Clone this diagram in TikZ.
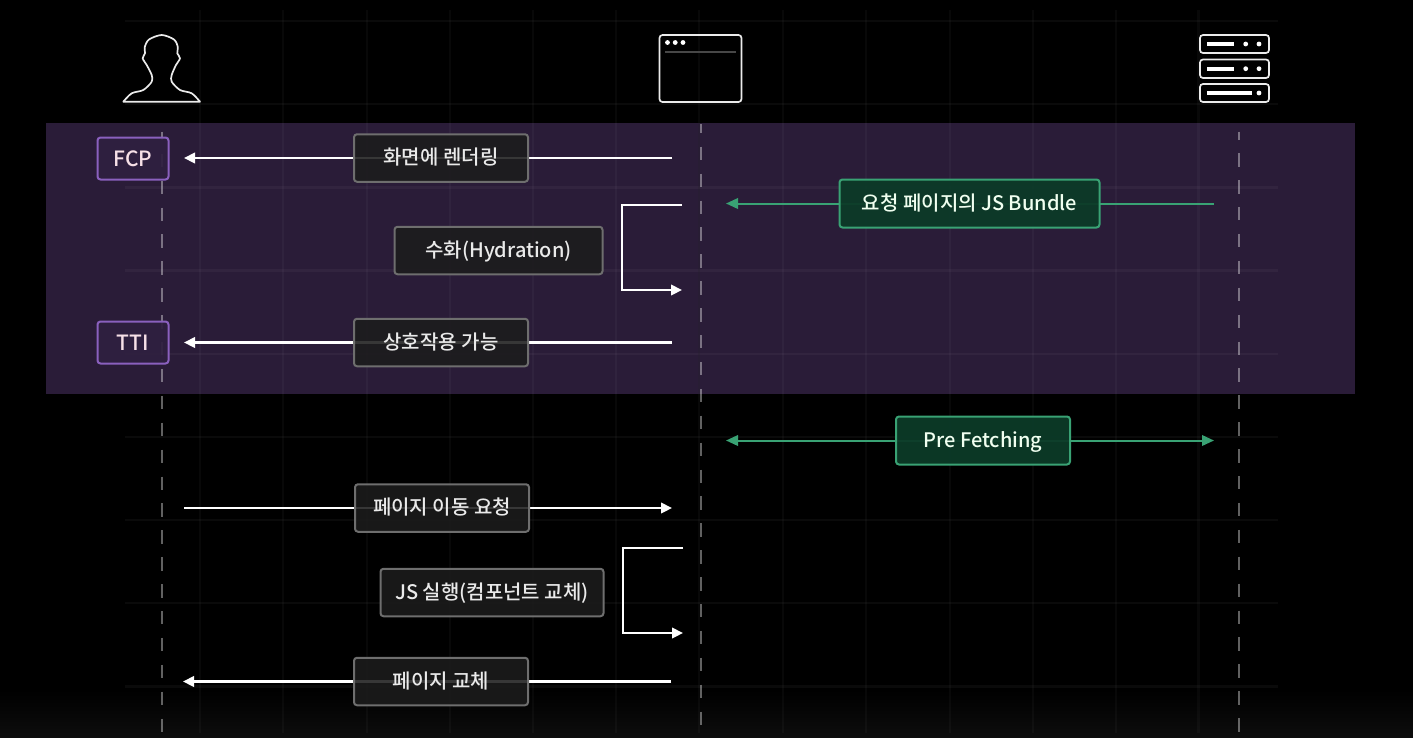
\documentclass[tikz,border=0pt]{standalone}
\usepackage{fontspec}
\setmainfont{Noto Sans CJK KR Medium}
\usetikzlibrary{arrows.meta}
\pgfdeclarelayer{bg}
\pgfdeclarelayer{edges}
\pgfsetlayers{bg,edges,main}
\definecolor{panel}{HTML}{2A1C38}
\definecolor{boxfill}{HTML}{1C1C1C}
\definecolor{boxline}{HTML}{6E6E6E}
\definecolor{greenline}{HTML}{39A274}
\definecolor{greenfill}{HTML}{0C3A28}
\definecolor{purpline}{HTML}{8A60BE}
\definecolor{purpfill}{HTML}{2F2040}
\definecolor{txt}{HTML}{EAEAEA}
\tikzset{
  x=1pt,y=-1pt,
  every node/.style={inner sep=0pt,outer sep=0pt,font=\fontsize{20pt}{24pt}\selectfont,text=txt,text height=15pt,text depth=2pt},
  graybox/.style={draw=boxline,fill=boxfill,fill opacity=.88,text opacity=1,line width=2pt,rounded corners=3pt,minimum height=47.5pt},
  greenbox/.style={draw=greenline,fill=greenfill,line width=2pt,rounded corners=3pt,minimum height=48pt,fill opacity=.95,text opacity=1,text=white!94!green},
  purpbox/.style={draw=purpline,fill=purpfill,line width=2pt,rounded corners=3pt,minimum width=71pt,minimum height=42pt,fill opacity=.93,text opacity=1,text=white!88!purple,font=\fontsize{21pt}{24pt}\selectfont,text height=16pt,text depth=1pt},
  wire/.style={draw=white,line width=2.2pt},
  wirearrow/.style={wire,-{Triangle[length=11pt,width=10.5pt]}},
  greenwire/.style={draw=greenline,line width=2pt},
  gridh/.style={draw=white,opacity=.04,line width=2.2pt},
  gridv/.style={draw=white,opacity=.03,line width=2.2pt},
  lifeline/.style={draw=white,opacity=.38,line width=2pt,dash pattern=on 13.4pt off 13.5pt},
  icon/.style={draw=white!92!black,line width=1.7pt,rounded corners=3pt},
}
\begin{document}
\begin{tikzpicture}
\useasboundingbox (0,0) rectangle (1413,737);
\begin{pgfonlayer}{bg}
  \fill[black] (0,0) rectangle (1413,737);
  \fill[bottom color=white!5!black,top color=black] (0,690) rectangle (1413,737);
  \fill[panel] (46,123) rectangle (1354.5,394);
  \foreach \gy in {21,104,187.5,270.5,354,437,520,603,686.5}
    \draw[gridh] (125,\gy) -- (1278,\gy);
  \foreach \gx in {200,283.3,366.6,450,533,616,699,783,866,950,1033,1116,1198.5}
    \draw[gridv] (\gx,10) -- (\gx,733);
  \fill[black,opacity=.16] (697.5,123) rectangle (700,394);
  \draw[lifeline,dash phase=4.9pt] (161.5,131.7) -- (161.5,733);
  \draw[lifeline,dash phase=4.2pt] (700.7,124) -- (700.7,725);
  \draw[lifeline,dash phase=5.4pt] (1239.3,131.7) -- (1239.3,734);
\end{pgfonlayer}

% actor icons
\draw[icon,rounded corners=0pt,line join=round] plot[smooth,tension=.5] coordinates {(123.3,101.7) (131.7,93.3) (143.3,90) (151.7,81.7) (151.7,75) (146.7,65) (142.7,58.3) (145,53.3) (144.8,47) (149,39.5) (161.7,35) (174,39.5) (177.8,47) (177.3,53.3) (180,58.3) (176,65) (171.7,75) (171.7,81.7) (180,90) (191.7,93.3) (200,101.7)} -- cycle;
\draw[icon] (659.5,35) rectangle (741.5,102);
\foreach \dx in {667.5,675.2,683} \fill[white] (\dx,42.5) circle (2.4pt);
\draw[draw=white!28!black,line width=1.6pt] (665,52) -- (736,52);
\draw[icon] (1200,35) rectangle (1269,53);
\draw[icon] (1200,59.5) rectangle (1269,78);
\draw[icon] (1200,84) rectangle (1269,102);
\foreach \ry in {44,68.7} {
  \draw[white,line width=4pt] (1207,\ry) -- (1233.5,\ry);
  \fill[white] (1245.7,\ry) circle (2.4pt);
  \fill[white] (1259,\ry) circle (2.4pt);
}
\draw[white,line width=4pt] (1207,93) -- (1251.5,93);
\fill[white] (1259,93) circle (2.4pt);

% label boxes
\node[purpbox] (fcp) at (133,158.5) {FCP};
\node[purpbox] (tti) at (133,342.5) {TTI};
\node[graybox,minimum width=174pt] (render) at (441,158) {화면에 렌더링};
\node[graybox,minimum width=208pt] (hydr) at (498.5,250.5) {수화(Hydration)};
\node[graybox,minimum width=174pt] (inter) at (441,342.5) {상호작용 가능};
\node[graybox,minimum width=174pt] (move) at (442,508) {페이지 이동 요청};
\node[graybox,minimum width=223pt] (jsrun) at (492,592.5) {JS 실행(컴포넌트 교체)};
\node[graybox,minimum width=174pt] (swap) at (441,681.5) {페이지 교체};
\node[greenbox,minimum width=260pt] (bundle) at (969.5,203.5) {요청 페이지의 JS Bundle};
\node[greenbox,minimum width=174pt] (prefetch) at (983,440.5) {Pre Fetching};

% connector ends
\coordinate (r1) at (672,158);  \coordinate (l1) at (184,158);
\coordinate (r2) at (672,342.5);\coordinate (l2) at (184,342.5);
\coordinate (l3) at (184,508);  \coordinate (r3) at (672,508);
\coordinate (r4) at (671,681.5);  \coordinate (l4) at (183,681.5);
\coordinate (gr1) at (1214,203.5); \coordinate (gl1) at (726,203.5);
\coordinate (gr2) at (1214,440.5); \coordinate (gl2) at (726,440.5);
\coordinate (b1a) at (682,205); \coordinate (b1b) at (622,205); \coordinate (b1c) at (622,290); \coordinate (b1d) at (682,290);
\coordinate (b2a) at (683,548); \coordinate (b2b) at (623,548); \coordinate (b2c) at (623,633); \coordinate (b2d) at (683,633);

\begin{pgfonlayer}{edges}
  \draw[wirearrow] (r1) -- (render.center) -- (l1);
  \draw[wirearrow] (r2) -- (inter.center) -- (l2);
  \draw[wirearrow] (l3) -- (move.center) -- (r3);
  \draw[wirearrow] (r4) -- (swap.center) -- (l4);
  \draw[greenwire,-{Triangle[length=12pt,width=10.5pt]}] (gr1) -- (bundle.center) -- (gl1);
  \draw[greenwire,{Triangle[length=12pt,width=10.5pt]}-{Triangle[length=12pt,width=10.5pt]}] (gl2) -- (prefetch.center) -- (gr2);
  \draw[wirearrow] (b1a) -- (b1b) -- (b1c) -- (b1d);
  \draw[wirearrow] (b2a) -- (b2b) -- (b2c) -- (b2d);
\end{pgfonlayer}
\end{tikzpicture}
\end{document}
